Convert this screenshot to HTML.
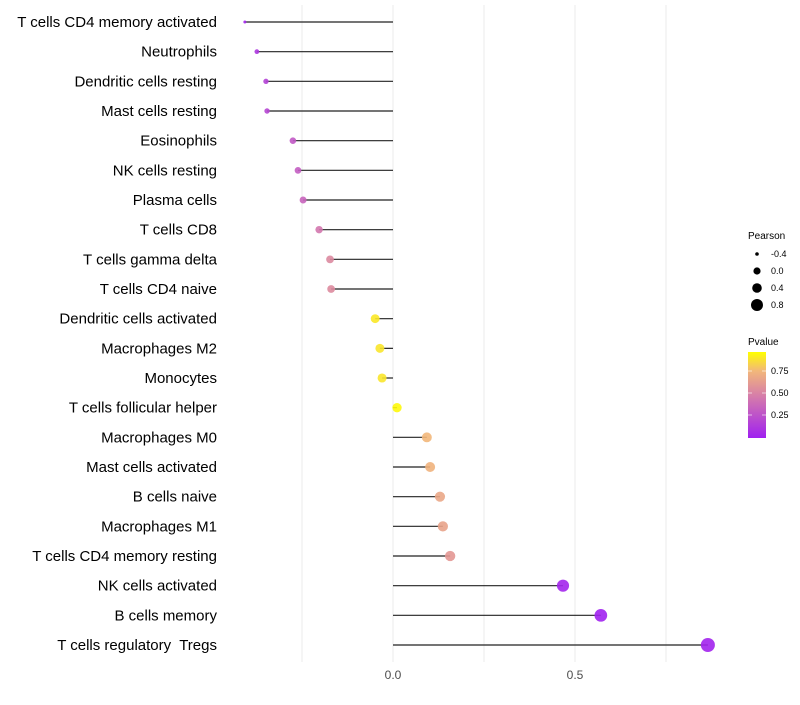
<!DOCTYPE html>
<html><head><meta charset="utf-8"><style>
body{margin:0;background:#fff;font-family:"Liberation Sans",sans-serif}
</style></head><body>
<svg id="chart" width="800" height="700" xmlns="http://www.w3.org/2000/svg">
<defs><linearGradient id="pg" x1="0" y1="1" x2="0" y2="0">
<stop offset="0" stop-color="#A020F0"/><stop offset="0.5" stop-color="#D77FA8"/><stop offset="0.78" stop-color="#F2B77A"/><stop offset="1" stop-color="#FFFF00"/></linearGradient></defs>
<g id="grid"></g><g id="marks"></g><g id="labels"></g>
<g font-size="9" fill="#000">
<text x="748" y="239" font-size="10">Pearson</text>
<circle cx="757" cy="254" r="1.8"/><text x="771" y="257">-0.4</text>
<circle cx="757" cy="271" r="3.6"/><text x="771" y="274">0.0</text>
<circle cx="757" cy="288" r="4.8"/><text x="771" y="291">0.4</text>
<circle cx="757" cy="305" r="6"/><text x="771" y="308">0.8</text>
<text x="748" y="345" font-size="10">Pvalue</text>
<rect x="748" y="352" width="18" height="86" fill="url(#pg)"/>
<g stroke="#fff" stroke-opacity="0.6"><line x1="748" x2="752" y1="371" y2="371"/><line x1="762" x2="766" y1="371" y2="371"/><line x1="748" x2="752" y1="393" y2="393"/><line x1="762" x2="766" y1="393" y2="393"/><line x1="748" x2="752" y1="415" y2="415"/><line x1="762" x2="766" y1="415" y2="415"/></g>
<text x="771" y="374">0.75</text><text x="771" y="396">0.50</text><text x="771" y="418">0.25</text>
</g>
</svg>
<script>
const cells=["T cells CD4 memory activated","Neutrophils","Dendritic cells resting","Mast cells resting","Eosinophils","NK cells resting","Plasma cells","T cells CD8","T cells gamma delta","T cells CD4 naive","Dendritic cells activated","Macrophages M2","Monocytes","T cells follicular helper","Macrophages M0","Mast cells activated","B cells naive","Macrophages M1","T cells CD4 memory resting","NK cells activated","B cells memory","T cells regulatory  Tregs"];
const pearson=[-0.407,-0.374,-0.349,-0.346,-0.275,-0.261,-0.247,-0.203,-0.173,-0.170,-0.049,-0.036,-0.030,0.011,0.093,0.102,0.129,0.137,0.157,0.467,0.571,0.865];
const pvalue=[0.03,0.12,0.18,0.2,0.3,0.32,0.36,0.46,0.55,0.56,0.93,0.92,0.92,0.98,0.78,0.76,0.7,0.68,0.62,0.03,0.01,0.02];
const xTicks=[0,0.5];
const gridVals=[-0.25,0.25,0.75];
const NS="http://www.w3.org/2000/svg";
const xs=v=>393+v*364;
const ys=i=>22+i*(623/21);
const rs=v=>1.5+4.9*Math.sqrt(Math.max(0,v+0.407));
function lerp(a,b,t){return a.map((c,k)=>Math.round(c+(b[k]-c)*t));}
function col(p){const s=[[0,[160,32,240]],[0.5,[215,127,168]],[0.78,[242,183,122]],[1,[255,255,0]]];
for(let k=1;k<s.length;k++)if(p<=s[k][0]){const t=(p-s[k-1][0])/(s[k][0]-s[k-1][0]);return "rgb("+lerp(s[k-1][1],s[k][1],t).join(",")+")";}return "rgb(255,255,0)";}
function mk(tag,at,par){const e=document.createElementNS(NS,tag);for(const k in at)e.setAttribute(k,at[k]);document.getElementById(par).appendChild(e);return e;}
gridVals.concat(xTicks).forEach(v=>{const l=mk("line",{x1:xs(v),x2:xs(v),y1:5,y2:662,stroke:"#ebebeb","stroke-width":1},"grid");

});
xTicks.forEach(v=>{const t=mk("text",{x:xs(v),y:679,"text-anchor":"middle","font-size":12,fill:"#4d4d4d"},"labels");t.textContent=v.toFixed(1);

});
cells.forEach((c,i)=>{const y=ys(i);
const l=mk("line",{x1:xs(0),x2:xs(pearson[i]),y1:y,y2:y,stroke:"#222","stroke-width":1.2},"marks");


const d=mk("circle",{cx:xs(pearson[i]),cy:y,r:rs(pearson[i]),fill:col(pvalue[i]),"fill-opacity":0.9},"marks");


const t=mk("text",{x:217,y:y+5,"text-anchor":"end","font-size":15,fill:"#000","style":"white-space:pre"},"labels");t.textContent=c;

});
</script>
</body></html>
